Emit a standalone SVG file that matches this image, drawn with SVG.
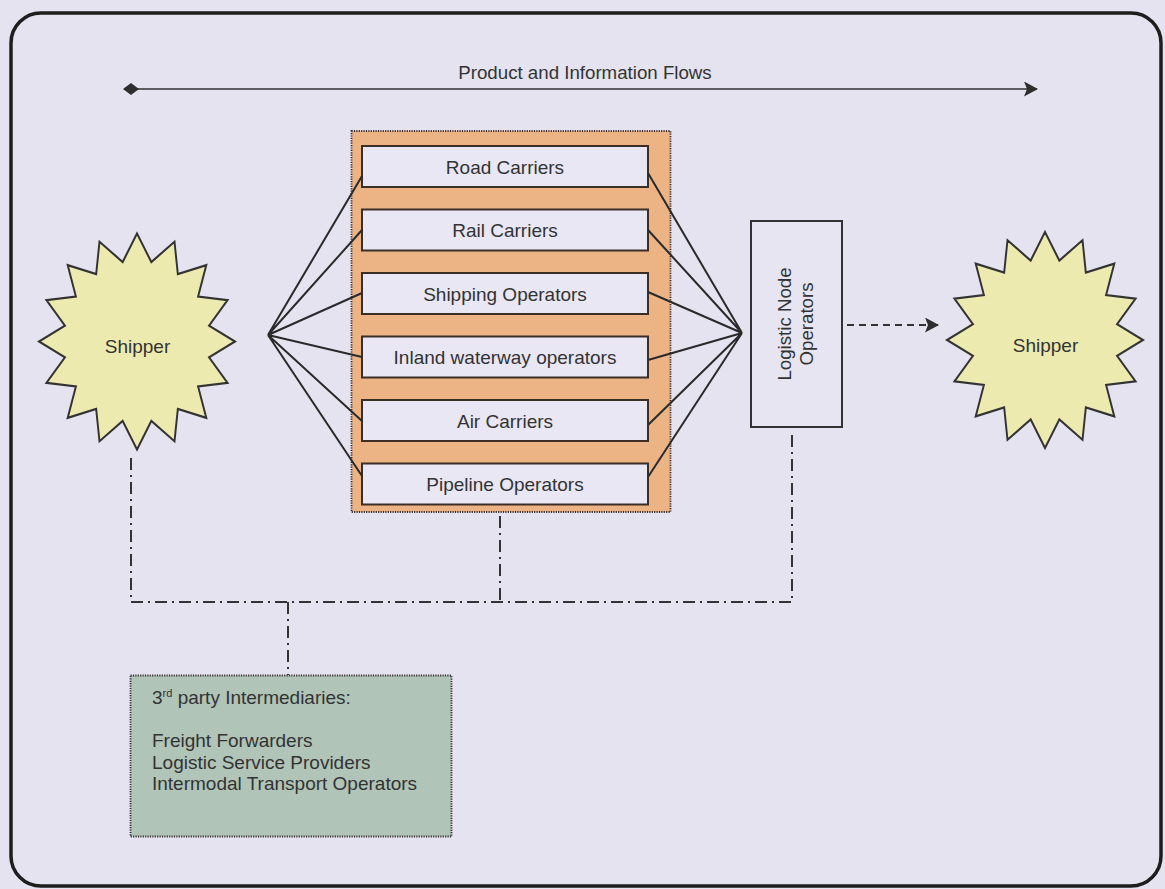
<svg xmlns="http://www.w3.org/2000/svg" xmlns:xlink="http://www.w3.org/1999/xlink" width="1165" height="889" viewBox="0 0 1165 889">
  <style>
    text { font-family: "Liberation Sans", Arial, sans-serif; font-size: 19px; fill: #333333; }
    .mid { text-anchor: middle; }
    .frame { fill: none; stroke: #1e1e1e; stroke-width: 3.5; }
    .carrier { fill: #e8e7f3; stroke: #3b2e27; stroke-width: 2; }
    .node { fill: #e6e5f1; stroke: #333333; stroke-width: 2; }
    .star { fill: #edeab0; stroke: #333333; stroke-width: 2; vector-effect: non-scaling-stroke; stroke-linejoin: miter; }
    .fan { stroke: #2a2a2a; stroke-width: 2; fill: none; }
    .dashdot { stroke: #333333; stroke-width: 2; fill: none; stroke-dasharray: 12 5 2 5; }
    .dotted { stroke: #3a3030; stroke-width: 1.8; stroke-dasharray: 1.2 1.2; }
  </style>
  <defs>
    <polygon id="star16" points="0,-100 14.63,-73.56 38.27,-92.39 41.67,-62.36 70.71,-70.71 62.36,-41.67 92.39,-38.27 73.56,-14.63 100,0 73.56,14.63 92.39,38.27 62.36,41.67 70.71,70.71 41.67,62.36 38.27,92.39 14.63,73.56 0,100 -14.63,73.56 -38.27,92.39 -41.67,62.36 -70.71,70.71 -62.36,41.67 -92.39,38.27 -73.56,14.63 -100,0 -73.56,-14.63 -92.39,-38.27 -62.36,-41.67 -70.71,-70.71 -41.67,-62.36 -38.27,-92.39 -14.63,-73.56"/>
    <marker id="arrowEnd" viewBox="0 0 14 15" refX="13" refY="7.5" markerWidth="14" markerHeight="15" markerUnits="userSpaceOnUse" orient="auto">
      <path d="M0,0 L14,7.5 L0,15 L3,7.5 Z" fill="#2e2e2e"/>
    </marker>
    <marker id="diamondStart" viewBox="0 0 16 12" refX="8" refY="6" markerWidth="16" markerHeight="12" markerUnits="userSpaceOnUse" orient="auto">
      <path d="M0,6 L8,0 L16,6 L8,12 Z" fill="#2e2e2e"/>
    </marker>
  </defs>

  <!-- page background and rounded frame -->
  <rect x="0" y="0" width="1165" height="889" fill="#e4e3ef"/>
  <rect class="frame" x="11" y="13" width="1150" height="873" rx="30" ry="30"/>

  <!-- flow direction banner -->
  <g id="flow-banner">
    <line x1="131" y1="89" x2="1037" y2="89" stroke="#333333" stroke-width="1.6" marker-start="url(#diamondStart)" marker-end="url(#arrowEnd)"/>
    <text class="mid" x="585" y="79" style="font-size:18.7px">Product and Information Flows</text>
  </g>

  <!-- shippers -->
  <g id="shipper-left">
    <use xlink:href="#star16" class="star" transform="translate(137,341.5) scale(0.98,1.08)"/>
    <text class="mid" x="137.5" y="353">Shipper</text>
  </g>
  <g id="shipper-right">
    <use xlink:href="#star16" class="star" transform="translate(1045,340) scale(0.98,1.08)"/>
    <text class="mid" x="1045.5" y="352">Shipper</text>
  </g>

  <!-- transport operators panel -->
  <g id="operators-panel">
    <rect x="351.5" y="131" width="319" height="381" fill="#ecb385" class="dotted"/>
  </g>
  <g id="road-carriers">
    <rect class="carrier" x="362" y="146" width="286" height="41"/>
    <text class="mid" x="505" y="173.5">Road Carriers</text>
  </g>
  <g id="rail-carriers">
    <rect class="carrier" x="362" y="209.5" width="286" height="41"/>
    <text class="mid" x="505" y="237">Rail Carriers</text>
  </g>
  <g id="shipping-operators">
    <rect class="carrier" x="362" y="273" width="286" height="41"/>
    <text class="mid" x="505" y="300.5">Shipping Operators</text>
  </g>
  <g id="inland-waterway-operators">
    <rect class="carrier" x="362" y="336.5" width="286" height="41"/>
    <text class="mid" x="505" y="364">Inland waterway operators</text>
  </g>
  <g id="air-carriers">
    <rect class="carrier" x="362" y="400" width="286" height="41"/>
    <text class="mid" x="505" y="427.5">Air Carriers</text>
  </g>
  <g id="pipeline-operators">
    <rect class="carrier" x="362" y="463.5" width="286" height="41"/>
    <text class="mid" x="505" y="491">Pipeline Operators</text>
  </g>

  <!-- logistic node operators -->
  <g id="logistic-node-operators">
    <rect class="node" x="751" y="221" width="91" height="206"/>
    <text class="mid" transform="translate(796,324) rotate(-90)" style="font-size:18.7px"><tspan x="0" y="-5">Logistic Node</tspan><tspan x="0" y="17">Operators</tspan></text>
  </g>

  <!-- third party intermediaries -->
  <g id="third-party-intermediaries">
    <rect x="130.5" y="675.5" width="321" height="161" fill="#b0c4b8" class="dotted"/>
    <text x="152" y="704">3<tspan dy="-7" style="font-size:11px">rd</tspan><tspan dy="7"> party Intermediaries:</tspan></text>
    <text x="152" y="747">Freight Forwarders</text>
    <text x="152" y="768.5">Logistic Service Providers</text>
    <text x="152" y="790">Intermodal Transport Operators</text>
  </g>

  <!-- connectors -->
  <g id="connectors">
    <!-- shipper fan-out to carriers -->
    <path class="fan" d="M268,335 L362,176 M268,335 L362,230 M268,335 L362,293 M268,335 L362,357 M268,335 L362,421 M268,335 L362,476"/>
    <!-- carriers fan-in to logistic node -->
    <path class="fan" d="M648,173 L742,333 M648,230 L742,333 M648,292 L742,333 M648,360 L742,333 M648,425 L742,333 M648,477 L742,333"/>
    <!-- logistic node to receiving shipper -->
    <line x1="847" y1="325" x2="938" y2="325" stroke="#333333" stroke-width="2" stroke-dasharray="7 5" marker-end="url(#arrowEnd)"/>
    <!-- coordination links to intermediaries -->
    <path class="dashdot" d="M131,458 L131,602 L792,602 L792,432"/>
    <line class="dashdot" x1="500" y1="516" x2="500" y2="602"/>
    <line class="dashdot" x1="288" y1="602" x2="288" y2="675"/>
  </g>
</svg>
